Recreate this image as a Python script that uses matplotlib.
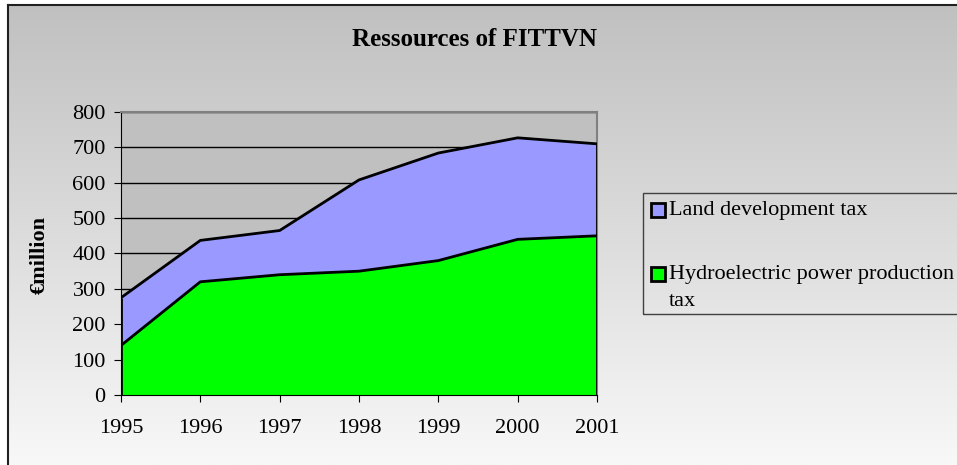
import matplotlib
matplotlib.use("Agg")
import matplotlib.pyplot as plt
import numpy as np
from matplotlib.patches import Rectangle

years = [1995, 1996, 1997, 1998, 1999, 2000, 2001]
hydro = [140, 320, 340, 350, 380, 440, 450]
land = [135, 117, 125, 258, 304, 287, 260]
series_labels = ["Land development tax", "Hydroelectric power production\ntax"]
title = "Ressources of FITTVN"
ylabel = "€million"

plt.rcParams['font.family'] = ['Liberation Serif', 'DejaVu Serif']

W, H = 957, 465
fig = plt.figure(figsize=(W / 100, H / 100), dpi=100)
fig.patch.set_facecolor('white')

# chart-area background gradient
bg = fig.add_axes([8 / W, 0, 1 - 8 / W, 1 - 5 / H])
grad = np.linspace(0, 1, 256).reshape(-1, 1)
bg.imshow(grad, aspect='auto', cmap=matplotlib.colors.LinearSegmentedColormap.from_list(
    'g', ['#c0c0c0', '#f8f8f8']), extent=[0, 1, 0, 1], origin='upper')
bg.set_xlim(0, 1); bg.set_ylim(0, 1)
for s in ['right', 'bottom']:
    bg.spines[s].set_visible(False)
for s in ['left', 'top']:
    bg.spines[s].set_linewidth(1.5)
    bg.spines[s].set_color('#202020')
bg.set_xticks([]); bg.set_yticks([])
bg.set_zorder(0)

x0, x1 = 121, 597
y0, y1 = 112, 395
ax = fig.add_axes([x0 / W, 1 - y1 / H, (x1 - x0) / W, (y1 - y0) / H])
ax.set_zorder(1)
ax.set_facecolor('#c0c0c0')

top = [h + l for h, l in zip(hydro, land)]
ax.fill_between(years, hydro, top, facecolor='#9999ff', edgecolor='none', zorder=2)
ax.fill_between(years, 0, hydro, facecolor='#00ff00', edgecolor='none', zorder=2)
ax.plot(years, top, color='black', lw=2, zorder=3)
ax.plot(years, hydro, color='black', lw=2, zorder=3)
ax.vlines([years[0], years[-1]], 0, top[0:1] + top[-1:], color='black', lw=2, zorder=3)

ax.set_xlim(years[0], years[-1])
ax.set_ylim(0, 800)
ax.set_yticks(range(0, 801, 100))
ax.set_xticks(years)
ax.yaxis.grid(True, color='black', lw=1)
ax.set_axisbelow(True)
ax.tick_params(axis='both', labelsize=16, length=5, color='black', direction='out')
ax.tick_params(axis='x', pad=12)
ax.tick_params(axis='y', pad=6)
for s in ['top', 'right']:
    ax.spines[s].set_color('#808080')
    ax.spines[s].set_linewidth(1.5)
for s in ['left', 'bottom']:
    ax.spines[s].set_color('black')
fig.text(40 / W, 1 - 255 / H, ylabel, fontsize=16, fontweight='bold', rotation=90,
         ha='center', va='center')

fig.text(475 / W, 1 - 40 / H, title, fontsize=18, fontweight='bold', ha='center', va='center')

# legend
lx, ly0, ly1 = 643, 193, 314
leg = Rectangle((lx / W, 1 - ly1 / H), (W - lx + 5) / W, (ly1 - ly0) / H,
                transform=fig.transFigure, facecolor='none', edgecolor='#404040', lw=1, zorder=5)
fig.add_artist(leg)
colors = ['#9999ff', '#00ff00']
box_y = [210, 274]
text_y = [211, 265]
for c, lab, by, ty in zip(colors, series_labels, box_y, text_y):
    fig.add_artist(Rectangle((651 / W, 1 - (by + 7) / H), 14 / W, 14 / H, transform=fig.transFigure,
                             facecolor=c, edgecolor='black', lw=2, zorder=6))
    fig.text(669 / W, 1 - ty / H, lab, fontsize=16, ha='left',
             va='top' if '\n' in lab else 'center', linespacing=1.55)

fig.savefig('out.png', dpi=100)
